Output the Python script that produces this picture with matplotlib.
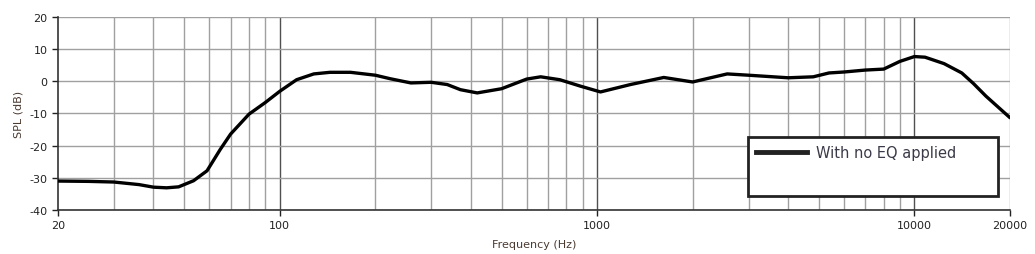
import matplotlib
matplotlib.use("Agg")
import matplotlib.pyplot as plt
from matplotlib.lines import Line2D
from matplotlib.ticker import FixedLocator, NullFormatter

# frequency response
freq_hz = [20, 25, 30, 36, 40, 44, 48, 53.5, 59, 65, 70, 80, 90, 100, 113, 128,
           144, 167, 200, 223, 259, 300, 337, 371, 419, 500, 600, 664, 763, 886,
           1025, 1274, 1622, 2000, 2570, 3000, 4000, 4800, 5380, 6000, 7000,
           8000, 9000, 10000, 10800, 12400, 14100, 15350, 16800, 20000]
spl_db = [-31.0, -31.1, -31.3, -32.1, -32.9, -33.1, -32.8, -30.9, -27.8, -21.1,
          -16.4, -10.2, -6.6, -3.1, 0.5, 2.3, 2.8, 2.8, 1.9, 0.8, -0.5, -0.3,
          -1.0, -2.6, -3.6, -2.3, 0.7, 1.4, 0.5, -1.5, -3.3, -1.0, 1.2, -0.2,
          2.3, 1.9, 1.1, 1.4, 2.6, 2.9, 3.5, 3.8, 6.2, 7.7, 7.5, 5.5, 2.6, -0.7,
          -4.6, -11.3]

x_ticks = [20, 100, 1000, 10000, 20000]
x_major = [100, 1000, 10000]
x_minor = [30, 40, 50, 60, 70, 80, 90, 200, 300, 400, 500, 600, 700, 800, 900,
           2000, 3000, 4000, 5000, 6000, 7000, 8000, 9000, 20000]
y_ticks = [-40, -30, -20, -10, 0, 10, 20]

fig = plt.figure(figsize=(10.35, 2.55), dpi=100)
ax = fig.add_axes([0.056, 0.1725, 0.9198, 0.757])
ax.set_xscale("log")
ax.set_xlim(20, 20000)
ax.set_ylim(-40, 20)

for f in x_minor:
    ax.axvline(f, color="#a0a0a0", lw=1.0, zorder=1)
for f in x_major:
    ax.axvline(f, color="#505050", lw=1.0, zorder=1)
for v in y_ticks:
    ax.axhline(v, color="#a0a0a0", lw=1.0, zorder=1)

ax.plot(freq_hz, spl_db, color="black", lw=2.4, zorder=3,
        solid_capstyle="round", solid_joinstyle="round")

ax.xaxis.set_major_locator(FixedLocator(x_ticks))
ax.xaxis.set_minor_locator(FixedLocator([]))
ax.xaxis.set_minor_formatter(NullFormatter())
ax.set_xticklabels([str(t) for t in x_ticks])
ax.set_yticks(y_ticks)
ax.set_yticklabels([str(t) for t in y_ticks])
ax.tick_params(axis="both", labelsize=8, colors="#222222", length=4, width=1)

for side in ["top", "right"]:
    ax.spines[side].set_visible(False)
for side in ["left", "bottom"]:
    ax.spines[side].set_color("#333333")
    ax.spines[side].set_linewidth(1.2)

ax.set_xlabel("Frequency (Hz)", fontsize=8, color="#4a3a30", labelpad=6)
ax.set_ylabel("SPL (dB)", fontsize=8, color="#4a3a30", labelpad=4)

handles = [Line2D([], [], color="#222222", lw=3.5),
           Line2D([], [], color="none", lw=0)]
leg = ax.legend(handles, ["With no EQ applied", " "], loc="lower left",
                bbox_to_anchor=(0.7248, 0.0725, 0.2626, 0.3), mode="expand",
                borderaxespad=0, fontsize=10.5, frameon=True, fancybox=False,
                handlelength=3.5, labelspacing=0.9, borderpad=0.55,
                handletextpad=0.6)
leg.get_frame().set_edgecolor("#222222")
leg.get_frame().set_linewidth(2)
leg.get_frame().set_alpha(1)
for t in leg.get_texts():
    t.set_color("#3a3a48")
leg.set_zorder(5)

fig.savefig("out.png", dpi=100)
